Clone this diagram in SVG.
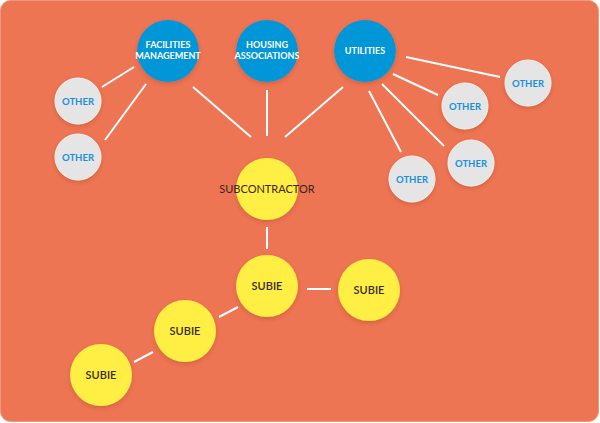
<svg xmlns="http://www.w3.org/2000/svg" width="600" height="423" viewBox="0 0 600 423">
<defs>
<filter id="sh" x="-30%" y="-30%" width="160%" height="170%">
<feDropShadow dx="0" dy="2" stdDeviation="2" flood-color="#7a2a10" flood-opacity="0.25"/>
</filter>
<style>
.bg{fill:#EE7553;stroke:#F2977C;stroke-width:1}
.blue{fill:#0096D8;filter:url(#sh)}
.grey{fill:#E5E5E5;stroke:#F1F1F1;stroke-width:1;filter:url(#sh)}
.yel{fill:#FFEF45;filter:url(#sh)}
.tw{font-family:Lato,"Open Sans",sans-serif;font-weight:bold;font-size:9px;fill:#FFFFFF;text-anchor:middle}
.tb{font-family:Lato,"Open Sans",sans-serif;font-weight:bold;font-size:9.5px;fill:#1990D8;text-anchor:middle}
.ty{font-family:Lato,"Open Sans",sans-serif;font-weight:600;font-size:11px;fill:#3A2A18;text-anchor:middle}
.tc{font-family:Lato,"Open Sans",sans-serif;font-weight:normal;font-size:11px;fill:#3A2418;text-anchor:middle}
#connectors line{stroke:#FFFFFF;stroke-width:2;stroke-linecap:butt}
</style>
</defs>
<rect class="bg" x="0.5" y="0.5" width="598" height="421" rx="10"/>
<g id="connectors">
<line x1="134" y1="67" x2="102" y2="87"/>
<line x1="146" y1="84" x2="105" y2="140"/>
<line x1="193" y1="87" x2="251" y2="137"/>
<line x1="267" y1="90" x2="267" y2="136"/>
<line x1="343" y1="87" x2="285" y2="137"/>
<line x1="406" y1="57" x2="500" y2="77"/>
<line x1="393" y1="74" x2="438" y2="95"/>
<line x1="382" y1="84" x2="444" y2="146"/>
<line x1="369" y1="91" x2="401" y2="152"/>
<line x1="267" y1="227" x2="267" y2="249"/>
<line x1="307" y1="289" x2="331" y2="289"/>
<line x1="238" y1="307" x2="219" y2="317"/>
<line x1="153" y1="352" x2="134" y2="362"/>
</g>
<g id="facilities">
<circle class="blue" cx="168" cy="51" r="31"/>
<text class="tw" x="168" y="48">FACILITIES</text>
<text class="tw" x="168" y="59">MANAGEMENT</text>
</g>
<g id="housing">
<circle class="blue" cx="267" cy="51" r="31"/>
<text class="tw" x="267" y="48">HOUSING</text>
<text class="tw" x="267" y="59">ASSOCIATIONS</text>
</g>
<g id="utilities">
<circle class="blue" cx="365" cy="51" r="31"/>
<text class="tw" x="365" y="54">UTILITIES</text>
</g>
<g id="other1">
<circle class="grey" cx="78" cy="101" r="23"/>
<text class="tb" x="78" y="104.5">OTHER</text>
</g>
<g id="other2">
<circle class="grey" cx="78" cy="157" r="23"/>
<text class="tb" x="78" y="160.5">OTHER</text>
</g>
<g id="other3">
<circle class="grey" cx="528" cy="83" r="23"/>
<text class="tb" x="528" y="86.5">OTHER</text>
</g>
<g id="other4">
<circle class="grey" cx="465" cy="106" r="23"/>
<text class="tb" x="465" y="109.5">OTHER</text>
</g>
<g id="other5">
<circle class="grey" cx="471" cy="163" r="23"/>
<text class="tb" x="471" y="166.5">OTHER</text>
</g>
<g id="other6">
<circle class="grey" cx="412" cy="179" r="23"/>
<text class="tb" x="412" y="182.5">OTHER</text>
</g>
<g id="subcontractor">
<circle class="yel" cx="267" cy="189" r="31"/>
<text class="tc" x="267" y="193">SUBCONTRACTOR</text>
</g>
<g id="subie1">
<circle class="yel" cx="267" cy="286" r="31"/>
<text class="ty" x="267" y="290">SUBIE</text>
</g>
<g id="subie2">
<circle class="yel" cx="369" cy="290" r="31"/>
<text class="ty" x="369" y="294">SUBIE</text>
</g>
<g id="subie3">
<circle class="yel" cx="185" cy="331" r="31"/>
<text class="ty" x="185" y="335">SUBIE</text>
</g>
<g id="subie4">
<circle class="yel" cx="101" cy="375" r="31"/>
<text class="ty" x="101" y="379">SUBIE</text>
</g>
</svg>
